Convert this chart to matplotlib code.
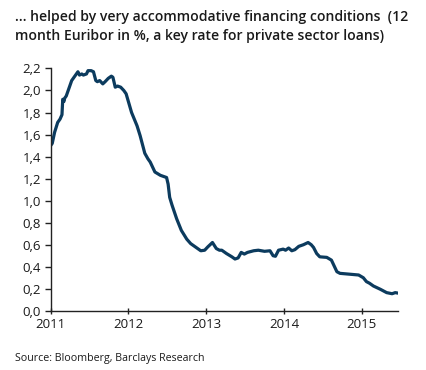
import matplotlib
matplotlib.use("Agg")
import matplotlib.pyplot as plt
from matplotlib.ticker import FuncFormatter

# Decimal years and 12-month Euribor values (%)
years = [2011.00, 2011.02, 2011.05, 2011.09, 2011.12, 2011.145, 2011.155, 2011.17, 2011.18,
         2011.20, 2011.24, 2011.27, 2011.29, 2011.33, 2011.35, 2011.37, 2011.40, 2011.42,
         2011.46, 2011.48, 2011.52, 2011.55, 2011.58, 2011.60, 2011.63, 2011.67, 2011.70,
         2011.74, 2011.78, 2011.80, 2011.83, 2011.86, 2011.90, 2011.94, 2011.97, 2012.04,
         2012.11, 2012.15, 2012.21, 2012.25, 2012.28, 2012.34, 2012.41, 2012.49, 2012.51,
         2012.53, 2012.56, 2012.62, 2012.68, 2012.75, 2012.80, 2012.86, 2012.90, 2012.93,
         2012.98, 2013.02, 2013.08, 2013.13, 2013.17, 2013.20, 2013.26, 2013.33, 2013.37,
         2013.41, 2013.45, 2013.49, 2013.53, 2013.61, 2013.67, 2013.75, 2013.82, 2013.86,
         2013.89, 2013.93, 2013.99, 2014.02, 2014.06, 2014.10, 2014.14, 2014.19, 2014.25,
         2014.31, 2014.35, 2014.38, 2014.42, 2014.46, 2014.55, 2014.61, 2014.65, 2014.68,
         2014.72, 2014.80, 2014.88, 2014.96, 2015.02, 2015.06, 2015.10, 2015.15, 2015.24,
         2015.32, 2015.39, 2015.43, 2015.47]
euribor = [1.50, 1.52, 1.62, 1.71, 1.74, 1.78, 1.92, 1.90, 1.93,
           1.95, 2.03, 2.09, 2.11, 2.15, 2.17, 2.14, 2.15, 2.14,
           2.15, 2.18, 2.18, 2.17, 2.09, 2.08, 2.09, 2.06, 2.08,
           2.11, 2.13, 2.12, 2.03, 2.04, 2.03, 2.00, 1.97, 1.80,
           1.68, 1.59, 1.43, 1.38, 1.35, 1.26, 1.23, 1.21, 1.15,
           1.03, 0.96, 0.835, 0.73, 0.65, 0.61, 0.58, 0.56, 0.545,
           0.55, 0.58, 0.62, 0.565, 0.55, 0.55, 0.52, 0.49, 0.47,
           0.48, 0.53, 0.515, 0.53, 0.545, 0.55, 0.54, 0.545, 0.50,
           0.495, 0.55, 0.56, 0.55, 0.57, 0.545, 0.555, 0.585, 0.60,
           0.62, 0.60, 0.575, 0.52, 0.49, 0.485, 0.46, 0.40, 0.355,
           0.34, 0.335, 0.33, 0.325, 0.30, 0.265, 0.25, 0.225, 0.195,
           0.165, 0.155, 0.165, 0.16]

x_ticks = [2011, 2012, 2013, 2014, 2015]
y_ticks = [0.0, 0.2, 0.4, 0.6, 0.8, 1.0, 1.2, 1.4, 1.6, 1.8, 2.0, 2.2]

title = ("… helped by very accommodative financing conditions  (12\n"
         "month Euribor in %, a key rate for private sector loans)")
source = "Source: Bloomberg, Barclays Research"

plt.rcParams['font.family'] = ['Open Sans', 'DejaVu Sans']
text_color = '#1a1a1a'
line_color = '#0c3b5e'

fig = plt.figure(figsize=(4.26, 3.70), dpi=100)
ax = fig.add_axes([0.119, 0.160, 0.816, 0.655])

ax.plot(years, euribor, color=line_color, lw=2.3, solid_joinstyle='round', solid_capstyle='round')

ax.set_xlim(2011, 2015.47)
ax.set_ylim(0, 2.2)
ax.set_xticks(x_ticks)
ax.set_yticks(y_ticks)
ax.xaxis.set_major_formatter(FuncFormatter(lambda v, p: f"{int(round(v))}"))
ax.yaxis.set_major_formatter(FuncFormatter(lambda v, p: f"{v:.1f}".replace('.', ',')))

for s in ['top', 'right']:
    ax.spines[s].set_visible(False)
for s in ['left', 'bottom']:
    ax.spines[s].set_color('#222222')
    ax.spines[s].set_linewidth(1.0)

ax.tick_params(axis='x', direction='inout', length=5, width=1, colors='#222222',
               labelsize=9.5, labelcolor=text_color, pad=3)
ax.tick_params(axis='y', direction='out', length=4, width=1, colors='#222222',
               labelsize=9.5, labelcolor=text_color, pad=3)

fig.text(0.036, 0.972, title, ha='left', va='top', fontsize=10.1, fontweight='semibold',
         color=text_color, linespacing=1.45)
fig.text(0.036, 0.025, source, ha='left', va='baseline', fontsize=7.7, color=text_color)

fig.savefig('out.png', dpi=100)
